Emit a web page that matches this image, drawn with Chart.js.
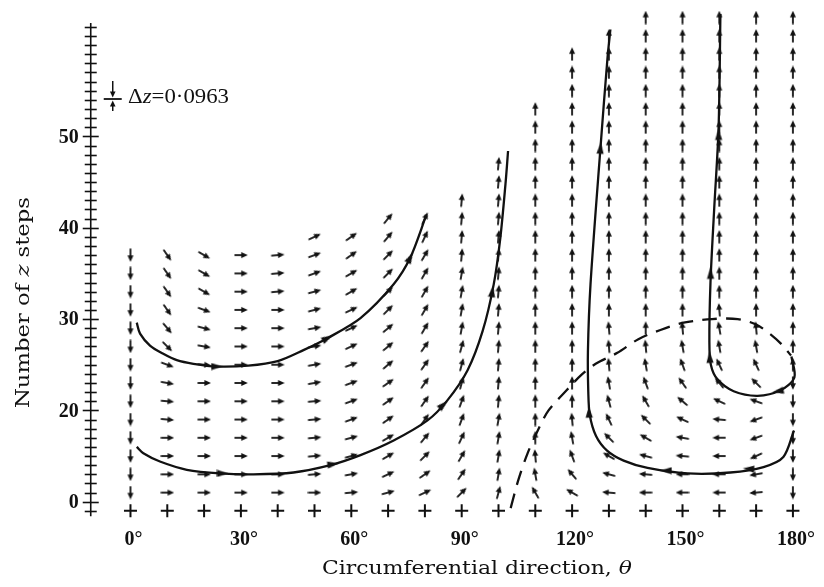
<!DOCTYPE html>
<html>
<head>
<meta charset="utf-8">
<script src="https://cdn.jsdelivr.net/npm/chart.js@4.4.1/dist/chart.umd.min.js"></script>
<style>
  html, body { margin: 0; padding: 0; background: #fff; }
  #wrap { width: 824px; height: 587px; }
</style>
</head>
<body>
<div id="wrap"><canvas id="chart" width="824" height="587"></canvas></div>
<script>
// ==========================================
// 1. Data
// ==========================================
const thetaCols = [0, 10, 20, 30, 40, 50, 60, 70, 80, 90, 100, 110, 120, 130, 140, 150, 160, 170, 180];
const zRows = [11, 13, 15, 17, 19, 21, 23, 25, 27, 29, 31, 33, 35, 37, 39, 41, 43, 45, 47, 49, 51, 53, 55, 57, 59, 61, 63];

// direction of the field arrow in each column, bottom row first (deg, 0 = right, 90 = up)
const fieldAngles = [
  [-90, -90, -90, -90, -90, -90, -90, -90, -90, -90, -90, -90, -90, -90],
  [0, 0, 0, 0, -5, -5, -10, -20, -45, -50, -55, -55, -55, -55],
  [0, 0, 0, 0, 0, 0, 0, -5, -10, -15, -20, -30, -30, -30],
  [0, 0, 0, 0, 0, 0, 0, 0, 0, 0, 0, 0, 0, 0],
  [0, 0, 0, 0, 0, 0, 0, 0, 0, 0, 0, 5, 5, 5],
  [0, 5, 5, 5, 5, 5, 10, 10, 10, 10, 15, 15, 20, 20, 25],
  [5, 10, 15, 15, 20, 20, 20, 20, 25, 25, 25, 30, 30, 35, 35],
  [15, 25, 30, 30, 35, 35, 35, 40, 40, 40, 45, 45, 45, 45, 50, 50],
  [25, 35, 45, 50, 55, 55, 55, 55, 55, 60, 60, 60, 60, 60, 65, 65],
  [45, 55, 60, 65, 70, 70, 75, 75, 75, 80, 80, 80, 80, 85, 85, 85, 85],
  [75, 80, 80, 80, 80, 85, 85, 85, 85, 85, 85, 85, 85, 85, 85, 85, 85, 85, 85],
  [120, 100, 95, 90, 90, 90, 90, 90, 90, 90, 90, 90, 90, 90, 90, 90, 90, 90, 90, 90, 90, 90],
  [150, 130, 110, 100, 95, 90, 90, 90, 90, 90, 90, 90, 90, 90, 90, 90, 90, 90, 90, 90, 90, 90, 90, 90, 90],
  [175, 165, 150, 135, 115, 105, 100, 95, 95, 95, 90, 90, 90, 90, 90, 90, 90, 90, 90, 90, 90, 90, 90, 90, 90, 90],
  [180, 175, 165, 150, 135, 120, 110, 100, 95, 90, 90, 90, 90, 90, 90, 90, 90, 90, 90, 90, 90, 90, 90, 90, 90, 90, 90],
  [180, 180, 175, 170, 155, 140, 125, 110, 100, 95, 90, 90, 90, 90, 90, 90, 90, 90, 90, 90, 90, 90, 90, 90, 90, 90, 90],
  [180, 180, 180, 180, 175, 155, 130, 115, 100, 100, 95, 90, 90, 90, 90, 90, 90, 90, 90, 90, 90, 90, 90, 90, 90, 90, 90],
  [185, 190, 205, 200, 200, 160, 135, 115, 100, 95, 90, 90, 90, 90, 90, 90, 90, 90, 90, 90, 90, 90, 90, 90, 90, 90, 90],
  [-90, -90, -90, -90, -90, -90, -90, 90, 90, 90, 90, 90, 90, 90, 90, 90, 90, 90, 90, 90, 90, 90, 90, 90, 90, 90, 90]
];

const plusRowZ = 9;

const xTickValues = [0, 30, 60, 90, 120, 150, 180];
const xTickLabels = ['0°', '30°', '60°', '90°', '120°', '150°', '180°'];
const yTickValues = [10, 20, 30, 40, 50];
const yTickLabels = ['0', '20', '30', '40', '50'];

// trajectories [theta, z]
const curveA = [[1.7, 29.6], [2.6, 28.4], [5.3, 27.1], [8.9, 26.2], [12.6, 25.5], [17.1, 25.1], [23.4, 24.8],
  [32, 24.9], [40, 25.4], [47, 26.6], [53.5, 27.9], [62.5, 30.1], [71.5, 33.8], [76, 36.7], [80.4, 41.4]];
const curveB = [[1.7, 16.0], [3.5, 15.3], [8.0, 14.4], [15.3, 13.5], [24.3, 13.1], [33.4, 13.0], [44.3, 13.2],
  [54.3, 14.0], [62.5, 15.1], [71.5, 16.7], [80.7, 18.9], [86.1, 21.1], [91.6, 24.4], [95.7, 28.7],
  [98.7, 33.8], [100.5, 38.9], [101.9, 44.8], [102.6, 48.4]];
const curveC = [[130.4, 61.7], [129.6, 58.5], [127.7, 48.7], [125, 33.8], [124.3, 26.5], [124.4, 22], [124.8, 19.5],
  [126.5, 17.2], [129.5, 15.6], [134, 14.5], [140.5, 13.7], [151.4, 13.1], [163, 13.2], [172, 13.8],
  [177.4, 14.9], [180.3, 17.8]];
const curveD = [[160.3, 63.4], [159.8, 50.9], [158.6, 42], [157.6, 34], [157.3, 27.5], [157.7, 25.0],
  [159.5, 23.4], [163.9, 22.1], [170.4, 21.6], [176.6, 22.2], [180.4, 23.6], [179.6, 25.9]];
const curveE = [[103.3, 9.3], [105.4, 12.4], [107.9, 15.3], [110.9, 18.0], [113.6, 20.0], [118.5, 22.2],
  [122.3, 23.8], [126.4, 25.1], [132.3, 26.3], [138, 27.8], [144, 28.8], [150.3, 29.6], [158, 30.0],
  [165, 30.0], [170, 29.4], [174, 28.3], [177, 27.2], [179.5, 26.0]];

// arrow heads on the trajectories [theta, z, direction deg]
const curveMarks = [
  [23.4, 24.8, 0], [53.5, 27.9, 28], [76, 36.7, 62],
  [25, 13.1, 0], [55, 14.1, 8], [85, 20.6, 42], [98.3, 33, 82],
  [127.7, 48.7, 86], [124.6, 19.8, 92], [145.6, 13.4, 180], [168, 13.6, 176],
  [159.8, 50.2, 91], [157.6, 35, 91], [157.4, 25.8, 93], [176, 22.1, 190]
];

// ==========================================
// 2. Glyphs
// ==========================================
function makeArrow() {
  const c = document.createElement('canvas');
  c.width = 14; c.height = 8;
  const g = c.getContext('2d');
  g.strokeStyle = '#111'; g.fillStyle = '#111'; g.lineWidth = 1.8;
  g.beginPath(); g.moveTo(0.5, 4); g.lineTo(9, 4); g.stroke();
  g.beginPath(); g.moveTo(7.3, 1.0); g.lineTo(13.9, 4); g.lineTo(7.3, 7.0); g.closePath(); g.fill();
  return c;
}
function makeHead() {
  const c = document.createElement('canvas');
  c.width = 8; c.height = 12;
  const g = c.getContext('2d');
  g.fillStyle = '#111';
  g.beginPath(); g.moveTo(4, 0); g.lineTo(7.6, 11.5); g.lineTo(0.4, 11.5); g.closePath(); g.fill();
  return c;
}
const arrowImg = makeArrow();
const headImg = makeHead();

const fieldPts = [];
const fieldRot = [];
thetaCols.forEach((th, i) => {
  fieldAngles[i].forEach((a, j) => {
    fieldPts.push({ x: th, y: zRows[j] });
    fieldRot.push(-a);
  });
});

const toXY = arr => arr.map(p => ({ x: p[0], y: p[1] }));

function curveSet(arr, dash) {
  return {
    type: 'line', data: toXY(arr), borderColor: '#111', borderWidth: 2.3,
    borderDash: dash || [], tension: 0.3, pointRadius: 0, fill: false, clip: false
  };
}

// draws pieces of text [str, style] stretched to a target width
function stretchText(ctx, parts, size, family, x, y, target) {
  let total = 0;
  parts.forEach(p => { ctx.font = p[1] + size + 'px ' + family; total += ctx.measureText(p[0]).width; });
  const k = target / total;
  ctx.save();
  ctx.translate(x, y);
  ctx.scale(k, 1);
  let px = 0;
  parts.forEach(p => {
    ctx.font = p[1] + size + 'px ' + family;
    ctx.fillText(p[0], px, 0);
    px += ctx.measureText(p[0]).width;
  });
  ctx.restore();
}

// ==========================================
// 3. Axes, labels, legend (drawn on the scales)
// ==========================================
const axisTheta = -10.8;

const annotate = {
  id: 'annotate',
  afterDraw(chart) {
    const { ctx, scales: { x, y } } = chart;
    const ax = x.getPixelForValue(axisTheta);
    ctx.save();
    ctx.strokeStyle = '#111';
    ctx.fillStyle = '#111';
    ctx.lineWidth = 1.6;
    ctx.beginPath();
    ctx.moveTo(ax, y.getPixelForValue(8.4));
    ctx.lineTo(ax, y.getPixelForValue(62.4));
    ctx.stroke();
    ctx.lineWidth = 1.6;
    for (let v = 9; v <= 62; v++) {
      const py = Math.round(y.getPixelForValue(v)) + 0.5;
      const half = yTickValues.includes(v) ? 8 : 6;
      ctx.beginPath();
      ctx.moveTo(ax - half, py);
      ctx.lineTo(ax + half, py);
      ctx.stroke();
    }

    // y tick labels
    ctx.font = 'bold 20px "Liberation Serif"';
    ctx.textAlign = 'right';
    ctx.textBaseline = 'middle';
    yTickValues.forEach((v, i) => ctx.fillText(yTickLabels[i], ax - 12, y.getPixelForValue(v) + 1));

    // x tick labels
    ctx.textAlign = 'center';
    const ly = y.getPixelForValue(plusRowZ) + 29;
    xTickValues.forEach((v, i) => ctx.fillText(xTickLabels[i], x.getPixelForValue(v) + 3, ly));

    // axis titles
    ctx.textAlign = 'left';
    ctx.textBaseline = 'alphabetic';
    stretchText(ctx, [['Circumferential direction, ', ''], ['θ', 'italic ']], 19, '"DejaVu Serif"', 322, 574, 310);

    ctx.save();
    ctx.translate(29, 408);
    ctx.rotate(-Math.PI / 2);
    stretchText(ctx, [['Number of ', ''], ['z', 'italic '], [' steps', '']], 19, '"DejaVu Serif"', 0, 0, 211);
    ctx.restore();

    // legend: step size marker
    const mx = ax + 22, my = 99;
    ctx.lineWidth = 1.8;
    ctx.beginPath(); ctx.moveTo(mx - 9, my); ctx.lineTo(mx + 9, my); ctx.stroke();
    ctx.lineWidth = 1.5;
    ctx.beginPath(); ctx.moveTo(mx, my - 18); ctx.lineTo(mx, my - 5); ctx.stroke();
    ctx.beginPath(); ctx.moveTo(mx - 2.8, my - 7.5); ctx.lineTo(mx, my - 1.5); ctx.lineTo(mx + 2.8, my - 7.5); ctx.closePath(); ctx.fill();
    ctx.beginPath(); ctx.moveTo(mx, my + 5); ctx.lineTo(mx, my + 12); ctx.stroke();
    ctx.beginPath(); ctx.moveTo(mx - 2.8, my + 7.5); ctx.lineTo(mx, my + 1.5); ctx.lineTo(mx + 2.8, my + 7.5); ctx.closePath(); ctx.fill();

    stretchText(ctx, [['Δ', ''], ['z', 'italic '], ['=0·0963', '']], 22, '"Liberation Serif"', 128, 103, 101);
    ctx.restore();
  }
};

// ==========================================
// 4. Chart
// ==========================================
new Chart(document.getElementById('chart'), {
  type: 'scatter',
  data: {
    datasets: [
      {
        data: fieldPts, pointStyle: arrowImg, pointRotation: fieldRot,
        pointRadius: 6, clip: false
      },
      {
        data: thetaCols.map(t => ({ x: t, y: plusRowZ })), pointStyle: 'cross',
        pointRadius: 6.5, borderColor: '#111', borderWidth: 2, clip: false
      },
      curveSet(curveA),
      curveSet(curveB),
      curveSet(curveC),
      curveSet(curveD),
      curveSet(curveE, [15, 9]),
      {
        data: curveMarks.map(m => ({ x: m[0], y: m[1] })), pointStyle: headImg,
        pointRotation: curveMarks.map(m => 90 - m[2]), pointRadius: 5, clip: false
      }
    ]
  },
  options: {
    responsive: false,
    animation: false,
    devicePixelRatio: 1,
    layout: { padding: { left: 90, right: 9, top: 6.5, bottom: 67 } },
    plugins: { legend: { display: false }, tooltip: { enabled: false } },
    scales: {
      x: { type: 'linear', min: -11, max: 186, display: false },
      y: { type: 'linear', min: 8, max: 64, display: false }
    }
  },
  plugins: [annotate]
});
</script>
</body>
</html>
